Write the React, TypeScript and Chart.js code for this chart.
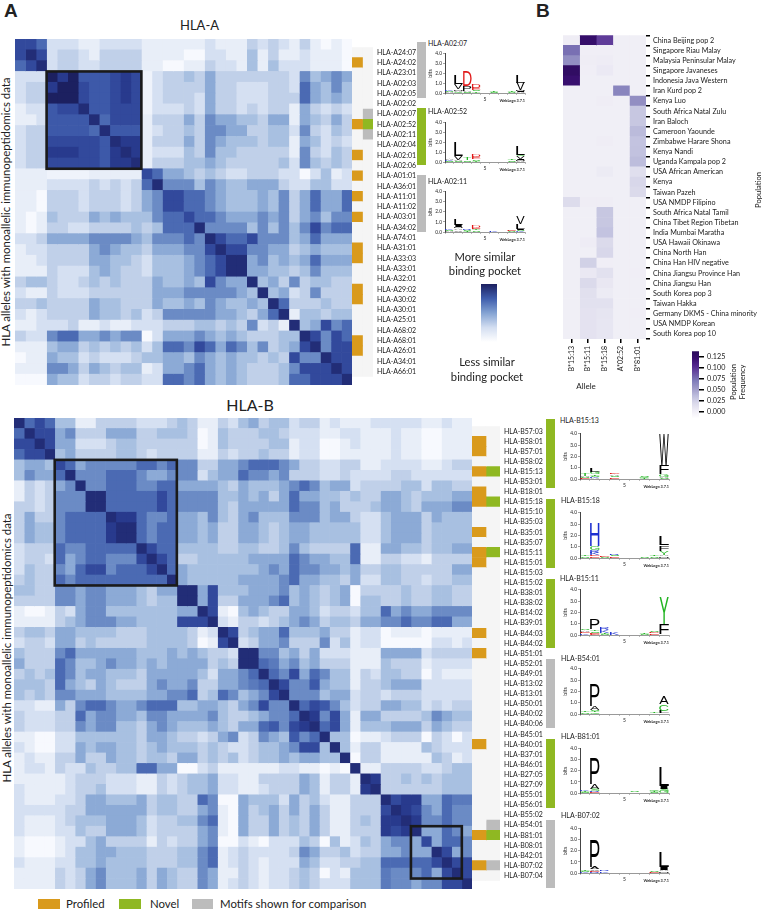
import React, { useEffect, useRef } from "react";
import { Chart, registerables } from "chart.js";
Chart.register(...registerables);

const FONT = "Lato, 'Open Sans', sans-serif";

const allelesA = ["HLA-A24:07","HLA-A24:02","HLA-A23:01","HLA-A02:03","HLA-A02:05","HLA-A02:02","HLA-A02:07","HLA-A02:52","HLA-A02:11","HLA-A02:04","HLA-A02:01","HLA-A02:06","HLA-A01:01","HLA-A36:01","HLA-A11:01","HLA-A11:02","HLA-A03:01","HLA-A34:02","HLA-A74:01","HLA-A31:01","HLA-A33:03","HLA-A33:01","HLA-A32:01","HLA-A29:02","HLA-A30:02","HLA-A30:01","HLA-A25:01","HLA-A68:02","HLA-A68:01","HLA-A26:01","HLA-A34:01","HLA-A66:01"];
const allelesB = ["HLA-B57:03","HLA-B58:01","HLA-B57:01","HLA-B58:02","HLA-B15:13","HLA-B53:01","HLA-B18:01","HLA-B15:18","HLA-B15:10","HLA-B35:03","HLA-B35:01","HLA-B35:07","HLA-B15:11","HLA-B15:01","HLA-B15:03","HLA-B15:02","HLA-B38:01","HLA-B38:02","HLA-B14:02","HLA-B39:01","HLA-B44:03","HLA-B44:02","HLA-B51:01","HLA-B52:01","HLA-B49:01","HLA-B13:02","HLA-B13:01","HLA-B50:01","HLA-B40:02","HLA-B40:06","HLA-B45:01","HLA-B40:01","HLA-B37:01","HLA-B46:01","HLA-B27:05","HLA-B27:09","HLA-B55:01","HLA-B56:01","HLA-B55:02","HLA-B54:01","HLA-B81:01","HLA-B08:01","HLA-B42:01","HLA-B07:02","HLA-B07:04"];

// similarity, upper triangle, row by row (0 = least similar, 9 = most similar)
const similarityA = [
[8,8,7,2,2,2,1,1,2,2,2,2,1,1,1,1,1,1,2,1,1,1,3,2,3,2,1,3,1,0,1,0],
[9,8,2,3,3,2,1,3,3,3,3,1,1,1,1,0,0,2,2,1,1,4,1,3,1,1,2,1,1,1,0],
[9,2,3,3,2,2,3,3,3,3,1,1,0,0,1,1,3,2,2,1,4,1,4,2,2,2,1,1,1,0],
[9.5,8.5,9.5,7.5,7.5,7.5,8,8.5,8,0.5,2,3,3,4,3,5,3,3,3,3,3,3,3,2,6,4,5,6,5],
[9.5,9.5,8,7.5,7.5,8,8.5,8,0.5,2,3,3,3,3,5,3,3,2,2,2,3,3,2,7,5,4,6,4],
[9.5,8,7.5,7.5,8,8.5,8,0.5,2,3,3,3,2,5,3,3,2,2,2,3,3,3,7,5,4,5,4],
[9,7.5,7.5,8,8,8,0.5,2,2,2,3,2,5,3,3,2,3,2,3,3,1,5,3,2,3,2],
[9,7,8,8,8,1,3,3,3,5,3,6,5,5,4,4,3,5,5,1,5,4,3,5,3],
[9,7.5,7.5,7.5,1,2,3,3,4,3,6,6,5,5,3,3,4,4,2,6,3,2,4,3],
[9,8.5,8.5,1,3,3,3,5,3,6,5,4,4,4,3,4,4,1,5,4,2,3,2],
[9,8.5,1,2,2,2,4,3,6,4,4,3,3,3,3,3,1,6,3,2,4,3],
[9,1,3,3,3,4,4,5,4,3,3,3,3,3,4,2,6,4,3,4,3],
[8,7,5,5,4,3,4,3,2,2,3,3,3,2,2,0,2,4,1,2],
[9,6,6,6,4,6,5,4,4,5,5,5,3,2,2,4,4,2,2],
[8,8,7,7,6,5,4,4,4,5,4,6,3,5,7,5,5,7],
[8,7,7,6,5,4,4,4,5,4,6,3,5,7,5,5,7],
[8,7,7,6,5,5,5,6,5,6,3,5,6,4,6,6],
[9,6,6,6,6,4,6,4,6,4,6,8,6,7,7],
[9,8,7,7,8,6,6,6,4,5,7,5,5,5],
[9,8,8,6,6,5,5,3,4,5,4,4,4],
[9,9,5,6,4,5,4,5,7,5,5,5],
[9,5,5,4,4,3,4,6,4,4,4],
[9,4,5,3,6,3,4,4,3,3],
[9,4,5,2,3,6,3,3,3],
[9,7,3,3,3,4,3,3],
[9,1,4,4,3,4,4],
[9,4,5,8,6,7],
[9,8,6,8,7],
[9,6,8,8],
[9,8,8],
[9,8],
[9],
];

const similarityB = [
[9,7,8,7,4,4,1,1,3,3,3,3,2,2,2,3,4,3,1,1,3,2,4,5,3,4,4,2,3,3,1,2,1,1,1,2,2,2,2,2,1,1,2,1,1],
[9,8,8,5,6,3,3,3,5,5,5,3,3,4,4,4,3,0,1,4,3,3,3,4,4,3,2,2,2,1,1,2,2,1,1,1,2,1,1,0,0,1,1,1],
[9,8,5,5,2,2,2,3,4,4,3,3,3,3,3,3,0,1,4,3,3,3,3,4,4,1,2,2,0,0,1,2,1,1,1,2,1,1,0,0,1,1,1],
[9,4,5,3,3,3,3,4,4,3,2,3,3,3,3,1,1,3,2,3,3,4,3,3,1,2,2,0,0,1,1,1,1,1,2,1,1,0,0,1,1,1],
[8,7,5,6,6,6,6,6,7,7,6,7,6,6,3,3,5,5,6,7,7,7,6,5,3,3,2,2,3,3,1,1,2,2,2,2,1,1,2,3,3],
[9,6,6,6,7,7,7,6,5,5,6,6,6,2,4,5,5,7,6,6,5,6,3,3,3,2,2,3,2,2,2,2,3,3,2,2,2,2,2,2],
[9,6,6,7,7,7,6,6,7,7,5,5,5,5,4,3,5,4,4,4,5,6,7,6,4,5,5,2,3,3,3,3,4,4,2,4,4,3,3],
[9,9,7,7,7,7,7,8,7,6,6,6,6,4,4,5,4,5,3,5,7,5,5,4,4,3,4,3,3,5,5,4,3,4,4,4,5,5],
[9,7,7,7,7,7,8,7,6,6,6,6,4,3,5,5,5,5,5,7,6,6,4,5,3,3,3,4,5,5,4,3,5,5,5,6,6],
[9,8.5,8.5,7,6,6,7,5,5,4,6,4,3,5,6,4,4,4,6,6,6,4,5,5,3,2,2,4,5,5,5,3,5,4,4,4],
[9,9,7,6,7,7,5,5,4,5,3,3,5,5,4,3,4,5,5,4,4,4,4,4,2,2,4,5,5,5,3,4,4,4,4],
[9,7,6,7,7,5,5,4,5,3,3,5,5,4,3,4,5,5,4,4,4,4,4,2,2,4,5,5,5,3,4,4,4,4],
[9,8,7,7,4,4,4,4,3,3,4,4,3,3,4,6,4,3,3,3,3,7,1,1,5,5,4,4,3,4,4,5,5],
[9,8,7,3,3,4,4,4,4,4,5,5,5,5,7,6,5,5,4,4,7,1,1,3,3,2,2,1,3,3,3,3],
[9,7,5,4,4,4,4,4,4,4,5,6,5,7,6,6,5,5,4,5,3,3,4,4,3,3,3,3,3,5,5],
[9,5,4,4,4,4,4,5,5,5,5,6,7,5,5,4,4,3,5,2,2,4,4,3,3,2,3,3,4,4],
[9,9,5,8,4,4,4,5,5,5,6,4,5,4,3,4,5,0,3,3,3,3,4,3,3,4,4,3,3],
[9,5,8,3,3,5,5,5,6,7,4,5,4,3,4,5,0,4,4,3,3,4,3,3,4,4,3,3],
[9,8,1,0,4,5,4,3,3,5,5,4,2,3,3,2,4,4,7,5,6,5,5,6,6,6,6],
[9,2,1,3,3,2,3,4,5,6,5,3,4,4,3,5,5,6,6,7,6,6,7,7,5,5],
[9,8,3,4,5,5,7,4,4,4,5,3,3,1,2,2,0,1,1,1,0,1,1,1,1],
[9,2,3,5,5,6,3,3,3,6,2,4,1,2,2,0,0,0,0,0,2,2,1,2],
[9,9,6,6,4,5,3,5,2,2,2,1,1,1,5,5,5,5,2,3,3,3,3],
[9,7,6.5,5,6,4,5,3,3,3,1,1,1,4,3,3,3,1,2,2,2,2],
[9,7,6,8,5,7,6,4,4,1,3,2,4,4,3,3,0,2,1,1,1],
[9,8,6,6,7.5,5,4,4,1,3,3,4,5,5,5,2,2,2,2,2],
[9,6,6,6,4,5,5,2,3,3,2,3,3,3,2,2,2,2,2],
[9,7,8,7.5,6,4,2,3,3,5,5,4,4,2,3,2,3,3],
[9,8.5,6,8,5,1,5,5,3,3,3,3,4,6,5,4,4],
[9,7,8,5,1,4,4,4,5,5,5,3,5,4,3,3],
[9,4,4,0,1,1,2,3,3,3,0,3,2,0,2],
[9,4,1,3,3,1,1,1,1,4,3,2,2,2],
[9,0,3,3,1,1,1,1,1,4,3,1,2],
[9,1,1,3,3,3,3,2,2,3,4,4],
[9,8.5,3,3,4,3,4,3,4,4,4],
[9,3,3,3,3,3,3,4,4,4],
[9,8,8.5,8.5,5,5,7,6.5,6.5],
[9,8.5,8,6,5,7,6,6],
[9,8.5,6,6,7,6,6],
[9,5,5,7,6,5],
[8,5,7,7,6],
[9,8,5,6],
[9,8,8],
[9,8],
[9],
];

// annotation tracks: row indexes of each allele class
const profiledA = [1,7,10,12,14,16,19,20,23,24,28,29];
const novelA = [7];
const comparisonA = [6,8];
const profiledB = [1,2,4,6,7,10,12,13,20,22,31,40,43];
const novelB = [4,7,12,40];
const comparisonB = [39,43];

const populations = ["China Beijing pop 2","Singapore Riau Malay","Malaysia Peninsular Malay","Singapore Javaneses","Indonesia Java Western","Iran Kurd pop 2","Kenya Luo","South Africa Natal Zulu","Iran Baloch","Cameroon Yaounde","Zimbabwe Harare Shona","Kenya Nandi","Uganda Kampala pop 2","USA African American","Kenya","Taiwan Pazeh","USA NMDP Filipino","South Africa Natal Tamil","China Tibet Region Tibetan","India Mumbai Maratha","USA Hawaii Okinawa","China North Han","China Han HIV negative","China Jiangsu Province Han","China Jiangsu Han","South Korea pop 3","Taiwan Hakka","Germany DKMS - China minority","USA NMDP Korean","South Korea pop 10"];
const popAlleles = ["B*15:13","B*15:11","B*15:18","A*02:52","B*81:01"];
const freqB1513 = [.002,.075,.06,.13,.122,0,0,0,0,0,0,0,0,0,0,0,.016,0,0,0,0,0,0,0,0,0,0,0,0,0];
const freqB1511 = [.125,.001,.002,.001,0,0,0,0,0,0,0,0,0,0,0,0,.002,0,0,0,.003,0,.024,.006,.018,.013,.012,.011,.011,.011];
const freqB1518 = [.095,.001,.003,.005,0,0,.002,0,0,0,.002,0,0,.004,0,0,.002,.03,.03,.032,.018,.02,.001,.012,.007,.004,.012,.009,.008,.008];
const freqA0252 = [0,0,0,0,0,.065,0,0,0,0,0,0,0,0,0,0,0,0,0,0,0,0,0,0,0,0,0,0,0,0];
const freqB8101 = [0,0,0,0,0,0,.06,.03,.03,.037,.032,.033,.036,.014,.02,.018,0,0,0,0,0,0,0,.001,0,0,0,.001,0,0];
const freqTicks = [0,.025,.05,.075,.1,.125];

type Stack = [string, number][];
const logoA0207: Stack[] = [[["A",.1],["S",.08],["K",.1]],[["G",.1],["A",.12],["M",.15],["V",.55],["L",.9]],[["S",.1],["A",.1],["P",.55],["D",1.55]],[["T",.2],["S",.1],["E",.2],["D",.35]],[["K",.04]],[["S",.1],["T",.1]],[["K",.03]],[["S",.12],["T",.1]],[["A",.1],["I",.1],["M",.1],["V",.75],["L",.8]]];
const logoA0252: Stack[] = [[["S",.1],["K",.12],["A",.12]],[["S",.1],["A",.1],["V",.4],["L",1.5]],[["S",.2],["T",.2]],[["T",.15],["S",.15],["E",.25],["D",.25]],[["K",.01]],[["K",.03]],[["K",.03]],[["S",.2],["T",.1]],[["A",.1],["M",.1],["I",.1],["V",.3],["G",.08],["L",.85]]];
const logoA0211: Stack[] = [[["A",.1],["S",.1],["K",.1]],[["V",.2],["A",.15],["M",.15],["I",.2],["L",.6]],[["T",.1],["S",.1],["R",.1]],[["S",.15],["T",.1],["E",.15],["D",.2]],[["K",.01]],[["K",.08]],[["K",.02]],[["S",.1],["E",.1]],[["K",.1],["S",.1],["I",.1],["L",.5],["V",.7]]];
const logoB1513: Stack[] = [[["E",.1],["S",.1],["A",.1],["T",.2]],[["A",.1],["K",.1],["S",.1],["T",.1],["G",.2],["L",.3]],[["K",.03]],[["E",.15],["S",.15],["A",.1],["D",.1]],[["K",.01]],[["K",.01]],[["T",.1],["G",.1],["S",.1]],[["K",.01]],[["S",.1],["A",.1],["G",.2],["F",.8],["W",2.8]]];
const logoB1518: Stack[] = [[["S",.15],["T",.15]],[["E",.15],["D",.1],["K",.2],["R",.25],["G",.35],["H",2.05]],[["S",.1],["D",.1]],[["E",.15],["S",.15],["R",.1]],[["K",.01]],[["K",.01]],[["S",.1]],[["S",.15],["T",.1]],[["M",.15],["A",.15],["Y",.35],["F",.5],["L",.8]]];
const logoB1511: Stack[] = [[["K",.15],["E",.15],["A",.1],["S",.1]],[["D",.1],["E",.1],["S",.15],["T",.15],["P",.9]],[["S",.1],["T",.1],["K",.2],["R",.2]],[["K",.2]],[["K",.01]],[["K",.01]],[["S",.1],["T",.1]],[["E",.15],["D",.1],["S",.1]],[["A",.03],["S",.03],["V",.04],["F",.9],["Y",2.45]]];
const logoB5401: Stack[] = [[["S",.15],["T",.1]],[["G",.15],["T",.1],["S",.1],["A",.35],["P",2]],[["K",.01]],[["K",.04]],[["K",.04]],[["K",.04]],[["K",.05]],[["S",.05],["T",.1]],[["S",.05],["L",.2],["C",.6],["A",.65]]];
const logoB8101: Stack[] = [[["S",.12],["T",.1],["K",.12]],[["E",.1],["R",.1],["S",.2],["A",.4],["P",2.35]],[["K",.02]],[["K",.01]],[["K",.01]],[["T",.05],["S",.05]],[["K",.01]],[["S",.1],["T",.1],["G",.1]],[["G",.2],["S",.2],["I",.2],["L",1.8]]];
const logoB0702: Stack[] = [[["K",.1],["S",.1],["T",.1]],[["R",.1],["E",.1],["V",.15],["A",.2],["P",2.5]],[["K",.15],["R",.15]],[["K",.01]],[["K",.05]],[["K",.01]],[["K",.01]],[["E",.1],["S",.15]],[["M",.15],["A",.15],["I",.25],["L",1.45]]];
const logoTitles = ["HLA-A02:07","HLA-A02:52","HLA-A02:11","HLA-B15:13","HLA-B15:18","HLA-B15:11","HLA-B54:01","HLA-B81:01","HLA-B07:02"];
const logoStacks = [logoA0207,logoA0252,logoA0211,logoB1513,logoB1518,logoB1511,logoB5401,logoB8101,logoB0702];

// ---------- styling and layout ----------
const BLUES = ["#f7f9fe","#e7edf8","#d3def1","#bccde7","#a3bcdf","#84a3d3","#5f80bf","#3f5dac","#293b90","#1c2060"];
const PURPLES = ["#fdfcfe","#eeecf5","#d9d8ea","#bcbcdc","#9e9ac8","#807dba","#6a51a3","#54278f","#3a0f70","#2a0b5a"];
const ORANGE = "#d99a1c", GREEN = "#8fb822", GRAY = "#bcbcbc", STRIP = "#f5f5f5";
const LETTER: Record<string,string> = {};
"GSTYC".split("").forEach(l => LETTER[l] = "#22b422");
"AVLIMFPW".split("").forEach(l => LETTER[l] = "#000000");
"KRH".split("").forEach(l => LETTER[l] = "#1c2fd0");
"DE".split("").forEach(l => LETTER[l] = "#e01818");
"QN".split("").forEach(l => LETTER[l] = "#8a1a9a");

const hex = (s: string) => [1,3,5].map(i => parseInt(s.slice(i,i+2),16));
function ramp(stops: string[], t: number) {
  const p = Math.max(0, Math.min(1, t)) * (stops.length - 1);
  const i = Math.min(stops.length - 2, Math.floor(p));
  const a = hex(stops[i]), b = hex(stops[i+1]), f = p - i;
  return `rgb(${a.map((v,k) => Math.round(v + (b[k]-v)*f)).join(",")})`;
}
function mirror(upper: number[][]) {
  const n = upper.length;
  const m = Array.from({length:n}, () => new Array(n).fill(0));
  upper.forEach((row,i) => row.forEach((v,j) => { m[i][i+j] = v; m[i+j][i] = v; }));
  return m;
}
const base = { responsive:false, animation:false as const, events:[] as any[], plugins:{ legend:{display:false}, tooltip:{enabled:false}, title:{display:false} } };

function heat(cv: HTMLCanvasElement, labels: string[], matrix: number[][], boxes: number[][]) {
  const n = labels.length;
  const boxPlugin = { id:"boxes", afterDatasetsDraw(c: any) {
    const {ctx, scales:{x,y}} = c;
    ctx.save(); ctx.strokeStyle="#1a1a1a"; ctx.lineWidth=2.6;
    boxes.forEach(([a,b]) => {
      const x0=x.getPixelForValue(a), x1=x.getPixelForValue(b);
      const y0=y.getPixelForValue(a-.5), y1=y.getPixelForValue(b-.5);
      ctx.strokeRect(x0,y0,x1-x0,y1-y0);
    });
    ctx.restore();
  }};
  return new Chart(cv, { type:"bar", plugins:[boxPlugin], data:{ labels, datasets: labels.map((lab,c) => ({
      label:lab, data:labels.map(()=>1), backgroundColor:matrix.map(r => ramp(BLUES, r[c]/9.5)), barPercentage:1, categoryPercentage:1, borderWidth:0 })) },
    options:{ ...base, indexAxis:"y", layout:{padding:0,autoPadding:false},
      scales:{ x:{stacked:true,min:0,max:n,display:false}, y:{stacked:true,display:false} } } } as any);
}
function tracks(cv: HTMLCanvasElement, labels: string[], p: number[], nv: number[], cmp: number[], fs: number, labelW: number) {
  const first = labels.map((_,i) => p.includes(i) ? ORANGE : STRIP);
  const second = labels.map((_,i) => nv.includes(i) ? GREEN : cmp.includes(i) ? GRAY : STRIP);
  return new Chart(cv, { type:"bar", data:{ labels, datasets:[
      {label:"Profiled",data:labels.map(()=>1),backgroundColor:first,barPercentage:1,categoryPercentage:1},
      {label:"Novel / comparison",data:labels.map(()=>1),backgroundColor:second,barPercentage:1,categoryPercentage:1}] },
    options:{ ...base, indexAxis:"y", layout:{padding:0,autoPadding:false},
      scales:{ x:{stacked:true,min:0,max:2,display:false},
        y:{stacked:true,position:"right",afterFit:(s:any)=>{s.width=labelW;},border:{display:false},grid:{display:false,drawTicks:false},
          ticks:{autoSkip:false,padding:4,color:"#222",font:{family:FONT,size:fs}}} } } } as any);
}
function population(cv: HTMLCanvasElement) {
  const cols = [freqB1513,freqB1511,freqB1518,freqA0252,freqB8101];
  const color = (v:number) => ramp(PURPLES,(v+.014)/.151);
  return new Chart(cv, { type:"bar", data:{ labels:populations, datasets:cols.map((vals,i)=>({
      label:popAlleles[i], data:populations.map(()=>1), backgroundColor:vals.map(color), barPercentage:1, categoryPercentage:1 })) },
    options:{ ...base, indexAxis:"y", layout:{padding:0,autoPadding:false},
      scales:{
        x:{stacked:true,min:0,max:5,position:"bottom",afterFit:(s:any)=>{s.height=36;},border:{display:false},
          afterBuildTicks:(s:any)=>{s.ticks=popAlleles.map((_,i)=>({value:i+.5}));},
          grid:{drawOnChartArea:false,color:"#000",lineWidth:1.5,tickLength:4},
          ticks:{autoSkip:false,minRotation:90,maxRotation:90,padding:3,color:"#222",font:{family:FONT,size:7},callback:(v:number)=>popAlleles[v-.5]}},
        y:{stacked:true,position:"right",afterFit:(s:any)=>{s.width=119;},border:{display:false},
          grid:{drawOnChartArea:false,color:"#000",lineWidth:1.5,tickLength:4},
          ticks:{autoSkip:false,padding:3,color:"#222",font:{family:FONT,size:7.2}}} } } } as any);
}
function gradientBar(cv: HTMLCanvasElement, stops: string[], range:[number,number], ticks: number[]|null, rightW: number) {
  const grad = (ctx:any) => { const a = ctx.chart.chartArea; if(!a) return stops[0];
    const g = ctx.chart.ctx.createLinearGradient(0,a.bottom,0,a.top);
    stops.forEach((s,i)=>g.addColorStop(i/(stops.length-1),s)); return g; };
  return new Chart(cv,{type:"bar",data:{labels:["scale"],datasets:[{label:"scale",data:[range],backgroundColor:grad,barPercentage:1,categoryPercentage:1}]},
    options:{...base,layout:{padding:0,autoPadding:false},scales:{
      x:{display:false},
      y:{display:!!ticks,min:range[0],max:range[1],position:"right",afterFit:(s:any)=>{s.width=rightW;},border:{display:false},
        afterBuildTicks:(s:any)=>{ if(ticks) s.ticks=ticks.map(v=>({value:v})); },
        grid:{drawOnChartArea:false,color:"#000",lineWidth:1.5,tickLength:5},
        ticks:{autoSkip:false,padding:3,color:"#222",font:{family:FONT,size:7.2},callback:(v:number)=>v.toFixed(3)}} } } } as any);
}
function logo(cv: HTMLCanvasElement, stacks: Stack[]) {
  const levels = Math.max(...stacks.map(s=>s.length));
  const letters = {id:"letters",afterDatasetsDraw(c:any){
    const ctx=c.ctx;
    c.data.datasets.forEach((_:any,d:number)=>{
      c.getDatasetMeta(d).data.forEach((el:any,i:number)=>{
        const it = stacks[i][d]; if(!it) return;
        const l=el.x-el.width/2, w=el.width, top=Math.min(el.y,el.base), h=Math.abs(el.base-el.y);
        if(h<=0) return;
        ctx.save(); ctx.font="40px 'Liberation Sans'"; ctx.fillStyle=LETTER[it[0]]||"#000";
        ctx.textBaseline="alphabetic";
        const m=ctx.measureText(it[0]);
        const gw=m.actualBoundingBoxRight+m.actualBoundingBoxLeft, gh=m.actualBoundingBoxAscent+m.actualBoundingBoxDescent;
        ctx.translate(l,top+h); ctx.scale(w/gw,h/gh);
        ctx.fillText(it[0],m.actualBoundingBoxLeft,-m.actualBoundingBoxDescent);
        ctx.restore();
      });
    });
  }};
  const labels=["1","2","3","4","5","6","7","8","9"];
  const datasets=Array.from({length:levels},(_,d)=>({label:"level"+d,data:stacks.map(s=>s[d]?s[d][1]:0),backgroundColor:"rgba(0,0,0,0)",barPercentage:1,categoryPercentage:.96,stack:"s"}));
  return new Chart(cv,{type:"bar",plugins:[letters],data:{labels,datasets},
    options:{...base,layout:{padding:{top:3,right:1},autoPadding:false},scales:{
      x:{stacked:true,afterFit:(s:any)=>{s.height=10;},border:{color:"#999"},grid:{drawOnChartArea:false,color:"#777",lineWidth:.5,tickLength:2},
        ticks:{autoSkip:false,maxRotation:0,padding:1,color:"#222",font:{family:FONT,size:5},callback:(_:any,i:number)=>labels[i]==="5"?"5":""}},
      y:{stacked:true,min:0,max:4,afterFit:(s:any)=>{s.width=18;},border:{color:"#444"},grid:{drawOnChartArea:false,color:"#444",lineWidth:.5,tickLength:2},
        title:{display:true,text:"bits",color:"#222",font:{family:FONT,size:5.5},padding:0},
        ticks:{stepSize:1,padding:1,color:"#222",font:{family:FONT,size:4.8},callback:(v:number)=>v.toFixed(1)}} } } } as any);
}

// [title x, title y, axis left, axis right, y of 4.0, y of 0.0]
const LOGO_BOX = [[428,43,445,525,53,93],[428,111,445,525,122,162],[428,181,445,525,191,232],
  [560,420,580,669,433,479],[561,500,580,669,512,558],[560,578,580,669,589,635],[561,658,580,669,668,714],[561,736,580,669,748,793],[561,815,580,669,828,873]];
const BARS = [[417,42,56,GRAY],[417,108,57,GREEN],[417,175,57,GRAY],[546,419,69,GREEN],[546,499,69,GREEN],[546,579,69,GREEN],[546,659,69,GRAY],[546,739,69,GREEN],[546,820,68,GRAY]];

const T = ({x,y,s,c,anchor,w,children}:any) => (
  <div style={{position:"absolute",left:x,top:y,whiteSpace:"pre",fontFamily:FONT,fontSize:s,fontWeight:w||400,color:c||"#222",lineHeight:1,
    transform:`translate(${anchor==="c"?"-50%":"0"},-50%)`}}>{children}</div>
);
const V = ({x,y,s,children}:any) => (
  <div style={{position:"absolute",left:x,top:y,transform:"translate(-50%,-50%) rotate(-90deg)",whiteSpace:"pre",fontFamily:FONT,fontSize:s,color:"#222",lineHeight:1}}>{children}</div>
);
const cvStyle=(l:number,t:number):React.CSSProperties=>({position:"absolute",left:l,top:t});

export default function App(){
  const root=useRef<HTMLDivElement>(null);
  useEffect(()=>{
    const q=(id:string)=>root.current!.querySelector(`#${id}`) as HTMLCanvasElement;
    const charts:any[]=[
      heat(q("heatA"),allelesA,mirror(similarityA),[[3,12]]),
      heat(q("heatB"),allelesB,mirror(similarityB),[[4,16],[39,44]]),
      tracks(q("trackA"),allelesA,profiledA,novelA,comparisonA,7,44),
      tracks(q("trackB"),allelesB,profiledB,novelB,comparisonB,7,46),
      population(q("pop")),
      gradientBar(q("cbar"),PURPLES,[-.014,.137],freqTicks,40),
      gradientBar(q("simbar"),["#ffffff",BLUES[2],BLUES[5],BLUES[7],BLUES[9]],[0,1],null,0),
      ...logoStacks.map((s,i)=>logo(q("logo"+i),s)),
    ];
    return ()=>charts.forEach(c=>c.destroy());
  },[]);
  return (
    <div ref={root} style={{position:"absolute",left:0,top:0,width:765,height:911,overflow:"hidden",background:"#fff"}}>
      <canvas id="heatA" width={337} height={346} style={cvStyle(15,39)}/>
      <canvas id="trackA" width={65} height={346} style={cvStyle(352,39)}/>
      <canvas id="heatB" width={458} height={471} style={cvStyle(14,418)}/>
      <canvas id="trackB" width={74} height={471} style={cvStyle(472,418)}/>
      <canvas id="pop" width={202} height={347} style={cvStyle(563,28)}/>
      <canvas id="cbar" width={47} height={81} style={cvStyle(692,344)}/>
      <canvas id="simbar" width={16} height={58} style={cvStyle(481,284)}/>
      {BARS.map((b:any,i)=><div key={i} style={{position:"absolute",left:b[0],top:b[1],width:9,height:b[2],background:b[3]}}/>)}
      {LOGO_BOX.map((b,i)=>(
        <React.Fragment key={i}>
          <canvas id={"logo"+i} width={b[3]-b[2]+19} height={b[5]-b[4]+13} style={cvStyle(b[2]-18,b[4]-3)}/>
          <T x={b[0]} y={b[1]} s={7}>{logoTitles[i]}</T>
          <div style={{position:"absolute",right:765-b[3],top:b[5]+6,fontFamily:FONT,fontSize:3.8,fontWeight:700,lineHeight:1,whiteSpace:"pre",color:"#222"}}>WebLogo 3.7.1</div>
        </React.Fragment>
      ))}
      <T x={4} y={10} s={19}><span style={{fontFamily:"'Liberation Sans'",fontWeight:700}}>A</span></T>
      <T x={536} y={10} s={19}><span style={{fontFamily:"'Liberation Sans'",fontWeight:700}}>B</span></T>
      <T x={199.5} y={25} s={13} anchor="c">HLA-A</T>
      <T x={250} y={405} s={16} anchor="c">HLA-B</T>
      <V x={6} y={212} s={11.4}>HLA alleles with monoallelic immunopeptidomics data</V>
      <V x={7} y={648} s={11.4}>HLA alleles with monoallelic immunopeptidomics data</V>
      <T x={485} y={257} s={11.2} anchor="c">More similar</T>
      <T x={485} y={271} s={11.2} anchor="c">binding pocket</T>
      <T x={487} y={362} s={11.2} anchor="c">Less similar</T>
      <T x={487} y={377} s={11.2} anchor="c">binding pocket</T>
      <T x={586} y={386} s={8} anchor="c">Allele</T>
      <V x={759} y={190} s={7.6}>Population</V>
      <V x={734} y={382} s={7.6}>Population</V>
      <V x={743} y={382} s={7.6}>Frequency</V>
      <div style={{position:"absolute",left:38,top:899,width:22,height:10,background:ORANGE}}/>
      <T x={66} y={904} s={11.4}>Profiled</T>
      <div style={{position:"absolute",left:119,top:899,width:22,height:10,background:GREEN}}/>
      <T x={150} y={904} s={11.4}>Novel</T>
      <div style={{position:"absolute",left:192,top:899,width:21,height:10,background:GRAY}}/>
      <T x={220} y={904} s={11.4}>Motifs shown for comparison</T>
    </div>
  );
}
